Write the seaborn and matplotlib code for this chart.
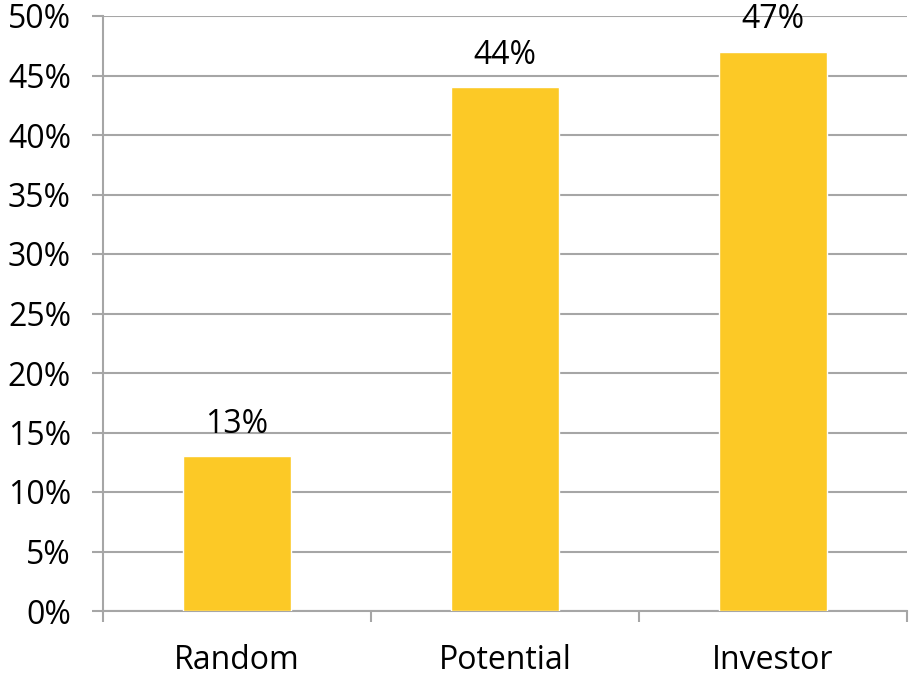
import matplotlib
matplotlib.use("Agg")
import matplotlib.pyplot as plt
import matplotlib.ticker as mticker
import seaborn as sns
import pandas as pd

categories = ["Random", "Potential", "Investor"]
shares = [0.13, 0.44, 0.47]
y_ticks = [0.0, 0.05, 0.10, 0.15, 0.20, 0.25, 0.30, 0.35, 0.40, 0.45, 0.50]

bar_color = "#FCC926"
grid_color = "#A6A6A6"

sns.set_theme(style="white")
plt.rcParams["font.family"] = ["Open Sans", "DejaVu Sans"]

df = pd.DataFrame({"group": categories, "share": shares})

fig = plt.figure(figsize=(9.09, 6.77), dpi=100)
ax = fig.add_axes([103 / 909, 66 / 677, 804 / 909, 595 / 677])

sns.barplot(data=df, x="group", y="share", color=bar_color, width=0.4,
            saturation=1, ax=ax, zorder=3)

ax.set_xlim(-0.5, 2.5)
ax.set_ylim(0, 0.5)
ax.set_yticks(y_ticks)
ax.yaxis.set_major_formatter(mticker.FuncFormatter(lambda v, _: f"{v * 100:.0f}%"))
ax.grid(axis="y", color=grid_color, linewidth=1.5, zorder=0)
ax.grid(axis="x", visible=False)
ax.set_axisbelow(True)

for side in ["top", "right"]:
    ax.spines[side].set_visible(False)
for side in ["left", "bottom"]:
    ax.spines[side].set_color(grid_color)
    ax.spines[side].set_linewidth(1.5)

ax.tick_params(axis="y", which="major", length=8, width=1.5, color=grid_color,
               labelsize=23, labelcolor="black", pad=15, left=True)
ax.tick_params(axis="x", which="major", length=0, labelsize=23,
               labelcolor="black", pad=24)
ax.set_xticks([-0.5, 0.5, 1.5, 2.5], minor=True)
ax.tick_params(axis="x", which="minor", length=8, width=1.5, color=grid_color,
               bottom=True)

ax.set_xlabel("")
ax.set_ylabel("")

for container in ax.containers:
    ax.bar_label(container, labels=[f"{v * 100:.0f}%" for v in shares],
                 padding=11, fontsize=23, color="black")

fig.savefig("out.png", dpi=100)
